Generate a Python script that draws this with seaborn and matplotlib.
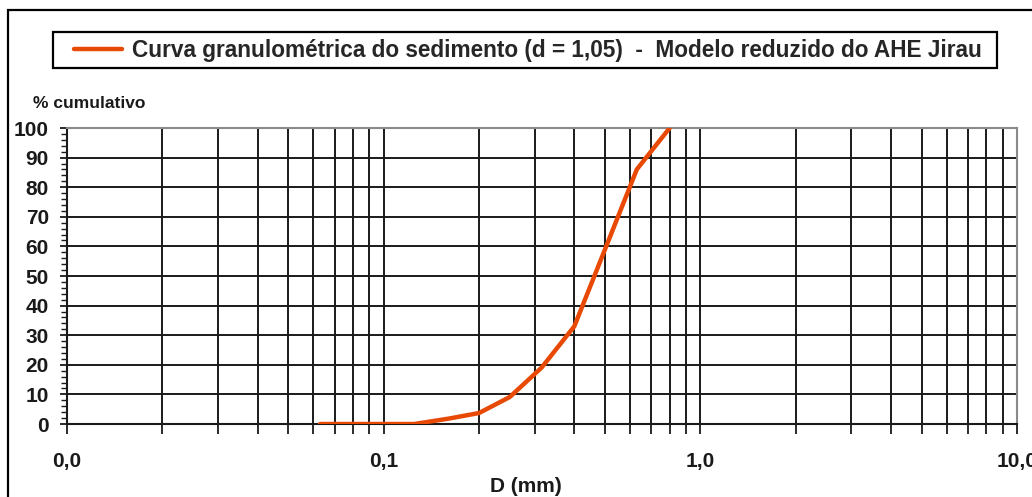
import numpy as np
import pandas as pd
import matplotlib
matplotlib.use("Agg")
import matplotlib.pyplot as plt
from matplotlib.patches import Rectangle
from matplotlib.lines import Line2D
import matplotlib.ticker as mticker
import seaborn as sns

# ---- data ----
diam_mm = [0.063, 0.125, 0.16, 0.2, 0.25, 0.315, 0.4, 0.5, 0.63, 0.8]
pct_cum = [0, 0, 1.8, 3.7, 9.1, 19, 33, 59, 86, 100]
xtick_vals = [0.01, 0.1, 1, 10]
xtick_labels = ["0,0", "0,1", "1,0", "10,0"]
ytick_vals = [0, 10, 20, 30, 40, 50, 60, 70, 80, 90, 100]
legend_label = "Curva granulométrica do sedimento (d = 1,05)  -  Modelo reduzido do AHE Jirau"
ylabel_text = "% cumulativo"
xlabel_text = "D (mm)"

sns.set_theme(style="white")
plt.rcParams["font.family"] = ["Liberation Sans", "DejaVu Sans"]
plt.rcParams["font.weight"] = "bold"

W, H = 1032, 497
fig = plt.figure(figsize=(W / 100, H / 100), dpi=100)
fig.patch.set_facecolor("white")

# figure frame
fig.add_artist(Rectangle((8 / W, -0.01), (W - 8) / W + 0.01, (H - 10) / H + 0.01, transform=fig.transFigure,
                         fill=False, edgecolor="black", linewidth=1.6, clip_on=False))

ax = fig.add_axes([67 / W, 73 / H, 950 / W, 296 / H])
df = pd.DataFrame({"D": diam_mm, "P": pct_cum})
sns.lineplot(data=df, x="D", y="P", ax=ax, color="#E84A06", linewidth=3.2, zorder=5, legend=False)

ax.set_xscale("log")
ax.set_xlim(0.01, 10)
ax.set_ylim(0, 100)

# grids
ax.xaxis.set_major_locator(mticker.FixedLocator(xtick_vals))
ax.xaxis.set_minor_locator(mticker.LogLocator(base=10, subs=np.arange(2, 10), numticks=20))
ax.xaxis.set_minor_formatter(mticker.NullFormatter())
ax.set_xticklabels(xtick_labels)
ax.yaxis.set_major_locator(mticker.FixedLocator(ytick_vals))
ax.yaxis.set_minor_locator(mticker.MultipleLocator(2))
ax.grid(True, which="major", axis="both", color="#1a1a1a", linewidth=1.4)
ax.grid(True, which="minor", axis="x", color="#1a1a1a", linewidth=1.4)
ax.set_axisbelow(True)

for s in ["top", "right"]:
    ax.spines[s].set_color("#8a8a8a")
    ax.spines[s].set_linewidth(1.5)
for s in ["left", "bottom"]:
    ax.spines[s].set_color("#1a1a1a")
    ax.spines[s].set_linewidth(1.5)

ax.tick_params(axis="x", which="both", direction="out", length=7, width=1.3, color="#1a1a1a",
               bottom=True, labelsize=15, pad=13)
ax.tick_params(axis="y", which="major", direction="out", length=5, width=1.3, color="#1a1a1a",
               left=True, labelsize=15, pad=8)
ax.tick_params(axis="y", which="minor", direction="out", length=4, width=1.0, color="#1a1a1a", left=True)
for lab in ax.get_xticklabels() + ax.get_yticklabels():
    lab.set_fontweight("bold")
    lab.set_color("#1a1a1a")

ax.set_xlabel("")
ax.set_ylabel("")
fig.text(526 / W, 1 - 486 / H, xlabel_text, fontsize=15, fontweight="bold", va="center", ha="center",
         color="#1a1a1a")
fig.text(33 / W, 1 - 103 / H, ylabel_text, fontsize=12.5, fontweight="bold", va="center", ha="left",
         color="#1a1a1a")

# legend box (frame drawn separately for exact padding)
fig.add_artist(Rectangle((53 / W, 1 - 68 / H), (997 - 53) / W, 36 / H, transform=fig.transFigure,
                         fill=False, edgecolor="black", linewidth=1.6))
handle = Line2D([], [], color="#E84A06", linewidth=3.2)
leg = fig.legend([handle], [legend_label], loc="center", bbox_to_anchor=(528 / W, 1 - 50 / H),
                 frameon=False, prop={"weight": "bold", "size": 16.3},
                 handlelength=2.1, handletextpad=0.44, borderpad=0.2, borderaxespad=0)

fig.savefig("out.png", dpi=100)
